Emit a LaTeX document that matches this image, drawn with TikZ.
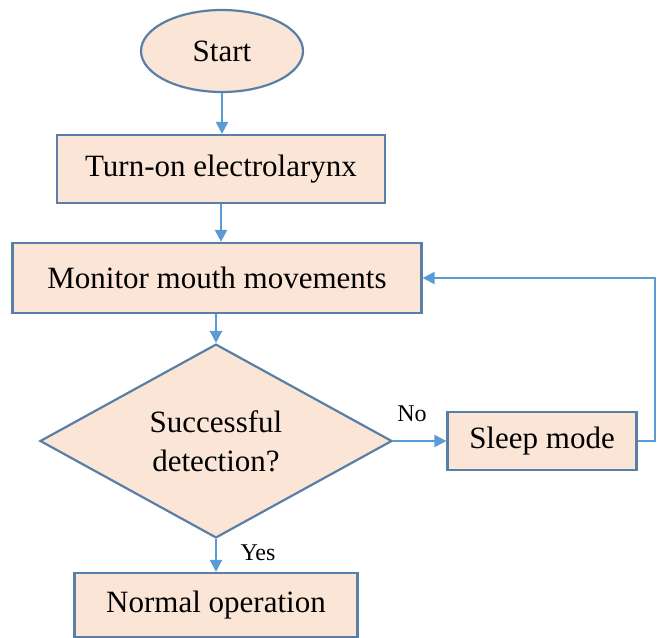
\documentclass[tikz,border=0pt]{standalone}
\usepackage{fontspec}
\setmainfont{Liberation Serif}
\usepackage{xcolor}
\usetikzlibrary{arrows.meta,shapes.geometric}
\definecolor{peach}{HTML}{FBE5D6}
\definecolor{edgeblue}{HTML}{5A7FA6}
\definecolor{linkblue}{HTML}{5B9BD5}

\begin{document}
\begin{tikzpicture}[
  x=1pt, y=-1pt,
  >={Triangle[length=12pt,width=12pt]},
  box/.style={draw=edgeblue, fill=peach, line width=2.2pt, align=center, inner sep=0pt,
              font=\fontsize{31}{39}\selectfont},
  arrow/.style={->, draw=linkblue, line width=2.2pt},
  tag/.style={font=\fontsize{24}{28}\selectfont}
]
  \useasboundingbox (0,0) rectangle (660,637);

  % Main column
  \node[box, ellipse, minimum width=162pt, minimum height=82pt] (start) at (222,51) {Start};
  \node[box, minimum width=328pt, minimum height=68pt] (turnon) at (221,169) {Turn-on electrolarynx};
  \node[box, minimum width=409pt, minimum height=70pt] (monitor) at (217,278) {Monitor mouth movements};
  \node[box, diamond, minimum width=352pt, minimum height=178pt] (detect) at (216,441) {Successful\\detection?};
  \node[box, minimum width=283pt, minimum height=64pt] (normal) at (216,605) {Normal operation};

  % Side branch
  \node[box, minimum width=189pt, minimum height=58pt] (sleep) at (542,441) {Sleep mode};
  \coordinate (loop) at (655,441);

  \draw[arrow] (start) -- (start |- turnon.north);
  \draw[arrow] (turnon) -- (turnon |- monitor.north);
  \draw[arrow] (detect |- monitor.south) -- (detect);
  \draw[arrow] (detect) -- (normal);
  \draw[arrow] (detect) -- (sleep);
  \draw[arrow] (sleep.east) -- (loop) |- (monitor.east);

  \node[tag] (no) at (412,414) {No};
  \node[tag] (yes) at (258,553) {Yes};
\end{tikzpicture}
\end{document}
